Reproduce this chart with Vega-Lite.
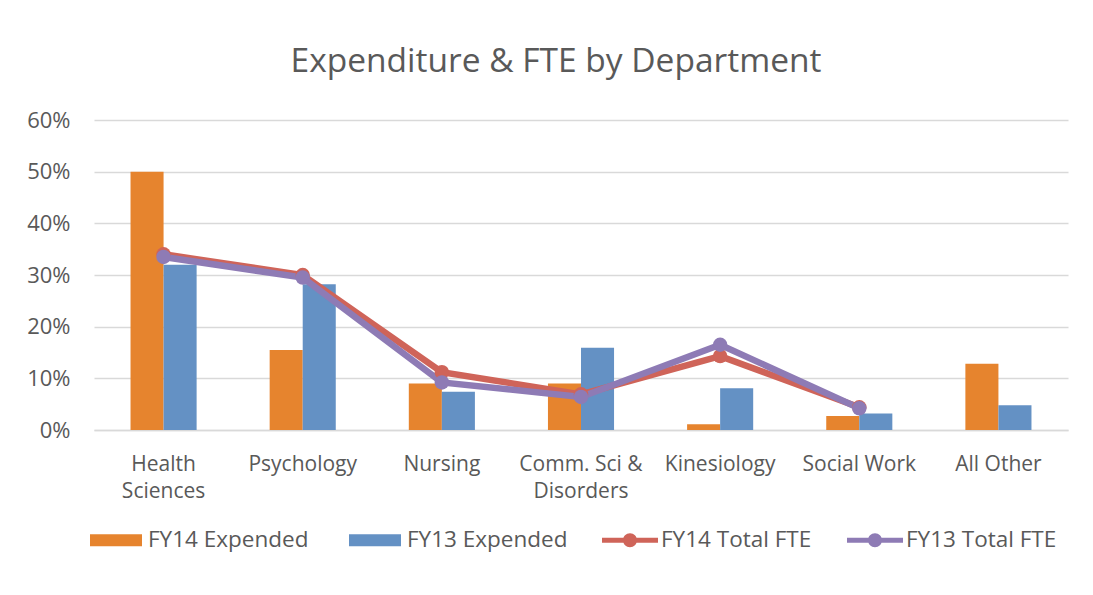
{
  "$schema": "https://vega.github.io/schema/vega-lite/v6.json",
  "width": 974,
  "height": 310,
  "autosize": {"type": "none"},
  "padding": {"left": 94, "top": 120, "right": 25, "bottom": 165},
  "background": "white",
  "config": {"font": "Open Sans", "view": {"stroke": null}},
  "title": {
    "text": "Expenditure & FTE by Department",
    "fontSize": 33.5,
    "fontWeight": "normal",
    "color": "#595959",
    "font": "Open Sans",
    "baseline": "alphabetic",
    "offset": 4,
    "dx": -25
  },
  "datasets": {
    "bars": [
      {"dept": "Health Sciences", "series": "FY14 Expended", "value": 0.50},
      {"dept": "Health Sciences", "series": "FY13 Expended", "value": 0.32},
      {"dept": "Psychology", "series": "FY14 Expended", "value": 0.155},
      {"dept": "Psychology", "series": "FY13 Expended", "value": 0.282},
      {"dept": "Nursing", "series": "FY14 Expended", "value": 0.09},
      {"dept": "Nursing", "series": "FY13 Expended", "value": 0.074},
      {"dept": "Comm. Sci & Disorders", "series": "FY14 Expended", "value": 0.09},
      {"dept": "Comm. Sci & Disorders", "series": "FY13 Expended", "value": 0.159},
      {"dept": "Kinesiology", "series": "FY14 Expended", "value": 0.011},
      {"dept": "Kinesiology", "series": "FY13 Expended", "value": 0.081},
      {"dept": "Social Work", "series": "FY14 Expended", "value": 0.027},
      {"dept": "Social Work", "series": "FY13 Expended", "value": 0.032},
      {"dept": "All Other", "series": "FY14 Expended", "value": 0.128},
      {"dept": "All Other", "series": "FY13 Expended", "value": 0.048}
    ],
    "fte": [
      {"dept": "Health Sciences", "series": "FY14 Total FTE", "value": 0.34},
      {"dept": "Psychology", "series": "FY14 Total FTE", "value": 0.30},
      {"dept": "Nursing", "series": "FY14 Total FTE", "value": 0.112},
      {"dept": "Comm. Sci & Disorders", "series": "FY14 Total FTE", "value": 0.069},
      {"dept": "Kinesiology", "series": "FY14 Total FTE", "value": 0.143},
      {"dept": "Social Work", "series": "FY14 Total FTE", "value": 0.044},
      {"dept": "Health Sciences", "series": "FY13 Total FTE", "value": 0.335},
      {"dept": "Psychology", "series": "FY13 Total FTE", "value": 0.295},
      {"dept": "Nursing", "series": "FY13 Total FTE", "value": 0.092},
      {"dept": "Comm. Sci & Disorders", "series": "FY13 Total FTE", "value": 0.064},
      {"dept": "Kinesiology", "series": "FY13 Total FTE", "value": 0.165},
      {"dept": "Social Work", "series": "FY13 Total FTE", "value": 0.042}
    ]
  },
  "encoding": {
    "x": {
      "field": "dept",
      "type": "nominal",
      "sort": ["Health Sciences", "Psychology", "Nursing", "Comm. Sci & Disorders", "Kinesiology", "Social Work", "All Other"],
      "scale": {"paddingInner": 0.525, "paddingOuter": 0.2625},
      "axis": {
        "title": null,
        "domain": true,
        "domainColor": "#D9D9D9",
        "domainWidth": 1.5,
        "ticks": false,
        "grid": false,
        "labelAngle": 0,
        "labelFontSize": 21,
        "labelColor": "#595959",
        "labelPadding": 23,
        "labelLineHeight": 27,
        "labelOverlap": false,
        "labelBound": false,
        "labelLimit": 300,
        "labelExpr": "datum.label == 'Health Sciences' ? ['Health', 'Sciences'] : datum.label == 'Comm. Sci & Disorders' ? ['Comm. Sci &', 'Disorders'] : datum.label"
      }
    },
    "y": {
      "field": "value",
      "type": "quantitative",
      "scale": {"domain": [0, 0.6], "nice": false},
      "axis": {
        "title": null,
        "format": ".0%",
        "values": [0, 0.1, 0.2, 0.3, 0.4, 0.5, 0.6],
        "domain": false,
        "ticks": false,
        "labelFontSize": 22,
        "labelColor": "#595959",
        "labelPadding": 24,
        "gridColor": "#D9D9D9",
        "gridWidth": 1.5
      }
    }
  },
  "layer": [
    {
      "data": {"name": "bars"},
      "mark": {"type": "bar"},
      "encoding": {
        "xOffset": {"field": "series", "type": "nominal", "sort": ["FY14 Expended", "FY13 Expended"]},
        "color": {
          "field": "series",
          "type": "nominal",
          "scale": {"domain": ["FY14 Expended", "FY13 Expended"], "range": ["#E6842E", "#6491C4"]},
          "legend": {
            "title": null,
            "orient": "none",
            "direction": "horizontal",
            "legendX": -4,
            "legendY": 394,
            "padding": 0,
            "symbolType": "M-1,-0.23H1V0.23H-1Z",
            "symbolSize": 2704,
            "symbolStrokeWidth": 0,
            "symbolOpacity": 1,
            "labelFontSize": 22.5,
            "labelColor": "#595959",
            "labelOffset": 6,
            "labelLimit": 300,
            "columnPadding": 40
          }
        }
      }
    },
    {
      "data": {"name": "fte"},
      "layer": [
        {
          "mark": {"type": "line", "strokeWidth": 6.5},
          "encoding": {
            "stroke": {
              "field": "series",
              "type": "nominal",
              "scale": {"domain": ["FY14 Total FTE", "FY13 Total FTE"], "range": ["#CF6459", "#8E7BB5"]},
              "legend": null
            }
          }
        },
        {
          "mark": {"type": "point", "filled": true, "size": 210, "opacity": 1},
          "encoding": {
            "color": {
              "field": "series",
              "type": "nominal",
              "scale": {"domain": ["FY14 Total FTE", "FY13 Total FTE"], "range": ["#CF6459", "#8E7BB5"]},
              "legend": {
                "title": null,
                "orient": "none",
                "direction": "horizontal",
                "legendX": 508,
                "legendY": 392,
                "padding": 0,
                "symbolType": "M-1,-0.09H1V0.09H-1Z M-0.25,0A0.25,0.25 0 1,1 0.25,0A0.25,0.25 0 1,1 -0.25,0Z",
                "symbolSize": 3136,
                "symbolStrokeWidth": 0,
                "symbolOpacity": 1,
                "labelFontSize": 22.5,
                "labelColor": "#595959",
                "labelOffset": 3,
                "labelLimit": 300,
                "columnPadding": 35
              }
            }
          }
        }
      ]
    }
  ],
  "resolve": {"scale": {"color": "independent"}}
}
